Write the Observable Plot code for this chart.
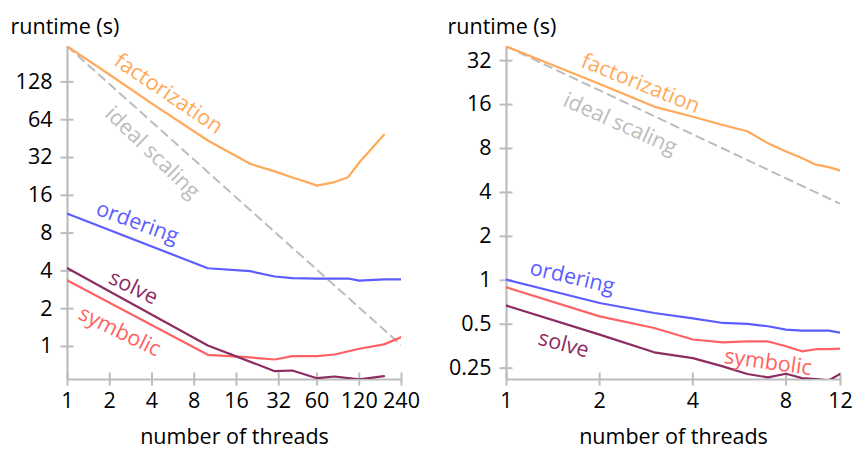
<!DOCTYPE html>
<html><head><meta charset="utf-8">
<script src="https://cdn.jsdelivr.net/npm/d3@7"></script>
<script src="https://cdn.jsdelivr.net/npm/@observablehq/plot@0.6"></script>
<style>
body{margin:0;background:#fff;}
#wrap{display:flex;width:854px;height:450px;}
#wrap svg{display:block;}
</style></head><body><div id="wrap"></div>
<script>
// ---------- Left panel data (1–240 threads) ----------
const leftFactX = [1, 2, 4, 10, 20, 30, 40, 50, 60, 80, 100, 120, 180];
const leftFactY = [245, 146, 86, 43.7, 28.5, 24.8, 22.2, 20.5, 19.1, 20.4, 22.3, 29.2, 48.5];
const leftOrdX = [1, 10, 20, 30, 40, 60, 100, 120, 180, 240];
const leftOrdY = [11.4, 4.2, 3.98, 3.61, 3.5, 3.47, 3.48, 3.35, 3.42, 3.42];
const leftSolveX = [1, 10, 30, 40, 60, 80, 120, 180];
const leftSolveY = [4.2, 1.02, 0.636, 0.644, 0.559, 0.577, 0.548, 0.58];
const leftSymX = [1, 10, 20, 30, 40, 60, 80, 120, 180, 240];
const leftSymY = [3.36, 0.859, 0.818, 0.788, 0.837, 0.837, 0.864, 0.959, 1.04, 1.19];
const leftIdealX = [1, 240];
const leftXTicks = [1, 2, 4, 8, 16, 32, 60, 120, 240];
const leftYTicks = [1, 2, 4, 8, 16, 32, 64, 128];

// ---------- Right panel data (1–12 threads) ----------
const rightX = [1, 2, 3, 4, 5, 6, 7, 8, 9, 10, 11, 12];
const rightFactY = [40, 22.1, 15.5, 13.2, 11.6, 10.5, 8.68, 7.64, 6.88, 6.2, 5.96, 5.64];
const rightOrdY = [1.01, 0.699, 0.597, 0.548, 0.51, 0.502, 0.484, 0.459, 0.452, 0.452, 0.452, 0.438];
const rightSymY = [0.895, 0.566, 0.471, 0.393, 0.376, 0.381, 0.381, 0.353, 0.326, 0.337, 0.338, 0.34];
const rightSolveY = [0.67, 0.424, 0.321, 0.293, 0.257, 0.228, 0.216, 0.229, 0.214, 0.21, 0.206, 0.229];
const rightIdealX = [1, 12];
const rightXTicks = [1, 2, 4, 8, 12];
const rightYTicks = [0.25, 0.5, 1, 2, 4, 8, 16, 32];

// ---------- Labels ----------
const labelNames = ["factorization", "ideal scaling", "ordering", "solve", "symbolic"];
const leftLabelX = [5.25, 4.03, 3.15, 2.95, 2.35];
const leftLabelY = [103, 35, 9.7, 2.95, 1.32];
const leftLabelAngle = [34, 44, 20, 26, 26];
const rightLabelX = [2.71, 2.33, 1.63, 1.53, 7.0];
const rightLabelY = [22.3, 11.8, 1.05, 0.364, 0.274];
const rightLabelAngle = [22, 24, 13, 15, 8];

const COLORS = {
  factorization: "#ffa95a",
  "ideal scaling": "#bcbcbc",
  ordering: "#5d5dff",
  solve: "#8c2c62",
  symbolic: "#ff6262"
};
const AXIS = "#bdbdbd";
const FONT = "Open Sans";
const FS = 21.5;

const zipXY = (xs, ys) => xs.map((x, i) => ({x, y: ys[i]}));

function panel(o) {
  const marks = [
    Plot.ruleX([o.xDomain[0]], {stroke: AXIS, strokeWidth: 2.2}),
    Plot.ruleY([o.yDomain[0]], {stroke: AXIS, strokeWidth: 2.2}),
    Plot.axisY(o.yTicks, {anchor: "left", label: null, tickSize: 13, dx: 6.5, tickFormat: () => "", stroke: AXIS, strokeWidth: 2}),
    Plot.axisY(o.yTicks, {anchor: "left", label: null, tickSize: 0, tickPadding: 15, tickFormat: d => String(d), fill: "#000", fontSize: FS}),
    Plot.axisX(o.xTicks, {anchor: "bottom", label: null, tickSize: 13, dy: -6.5, tickFormat: () => "", stroke: AXIS, strokeWidth: 2}),
    Plot.axisX(o.xTicks, {anchor: "bottom", label: null, tickSize: 0, tickPadding: 13, tickFormat: d => String(d), fill: "#000", fontSize: FS}),
    Plot.line(o.ideal, {x: "x", y: "y", stroke: COLORS["ideal scaling"], strokeWidth: 2, strokeDasharray: "8,6", clip: true}),
  ];
  for (const s of o.series) {
    marks.push(Plot.line(s.data, {x: "x", y: "y", stroke: COLORS[s.name], strokeWidth: 2.2, clip: true}));
  }
  marks.push(Plot.text(o.labels, {x: "x", y: "y", text: "name", rotate: "angle", fill: d => COLORS[d.name], fontSize: FS}));
  marks.push(Plot.text(["runtime (s)"], {frameAnchor: "top-left", text: d => d, textAnchor: "start", dx: o.ylabelDx, dy: -28, fill: "#000", fontSize: FS}));
  marks.push(Plot.text(["number of threads"], {frameAnchor: "bottom", text: d => d, dy: 64, fill: "#000", fontSize: FS}));
  return Plot.plot({
    width: o.width,
    height: 450,
    marginLeft: o.marginLeft,
    marginRight: o.marginRight,
    marginTop: 46,
    marginBottom: 71,
    style: {fontFamily: FONT, fontSize: FS + "px", background: "#fff", overflow: "visible"},
    x: {type: "log", base: 2, domain: o.xDomain, label: null},
    y: {type: "log", base: 2, domain: o.yDomain, label: null},
    marks
  });
}

const leftLabels = labelNames.map((name, i) => ({name, x: leftLabelX[i], y: leftLabelY[i], angle: leftLabelAngle[i]}));
const rightLabels = labelNames.map((name, i) => ({name, x: rightLabelX[i], y: rightLabelY[i], angle: rightLabelAngle[i]}));

const left = panel({
  width: 427, marginLeft: 67, marginRight: 26,
  xDomain: [1, 240], yDomain: [0.546, 245],
  xTicks: leftXTicks, yTicks: leftYTicks,
  ideal: leftIdealX.map(x => ({x, y: leftFactY[0] / x})),
  series: [
    {name: "factorization", data: zipXY(leftFactX, leftFactY)},
    {name: "ordering", data: zipXY(leftOrdX, leftOrdY)},
    {name: "symbolic", data: zipXY(leftSymX, leftSymY)},
    {name: "solve", data: zipXY(leftSolveX, leftSolveY)}
  ],
  labels: leftLabels, ylabelDx: -57
});
const right = panel({
  width: 427, marginLeft: 79, marginRight: 14,
  xDomain: [1, 12], yDomain: [0.209, 40],
  xTicks: rightXTicks, yTicks: rightYTicks,
  ideal: rightIdealX.map(x => ({x, y: rightFactY[0] / x})),
  series: [
    {name: "factorization", data: zipXY(rightX, rightFactY)},
    {name: "ordering", data: zipXY(rightX, rightOrdY)},
    {name: "symbolic", data: zipXY(rightX, rightSymY)},
    {name: "solve", data: zipXY(rightX, rightSolveY)}
  ],
  labels: rightLabels, ylabelDx: -59
});
document.getElementById("wrap").append(left, right);
</script>
</body></html>
